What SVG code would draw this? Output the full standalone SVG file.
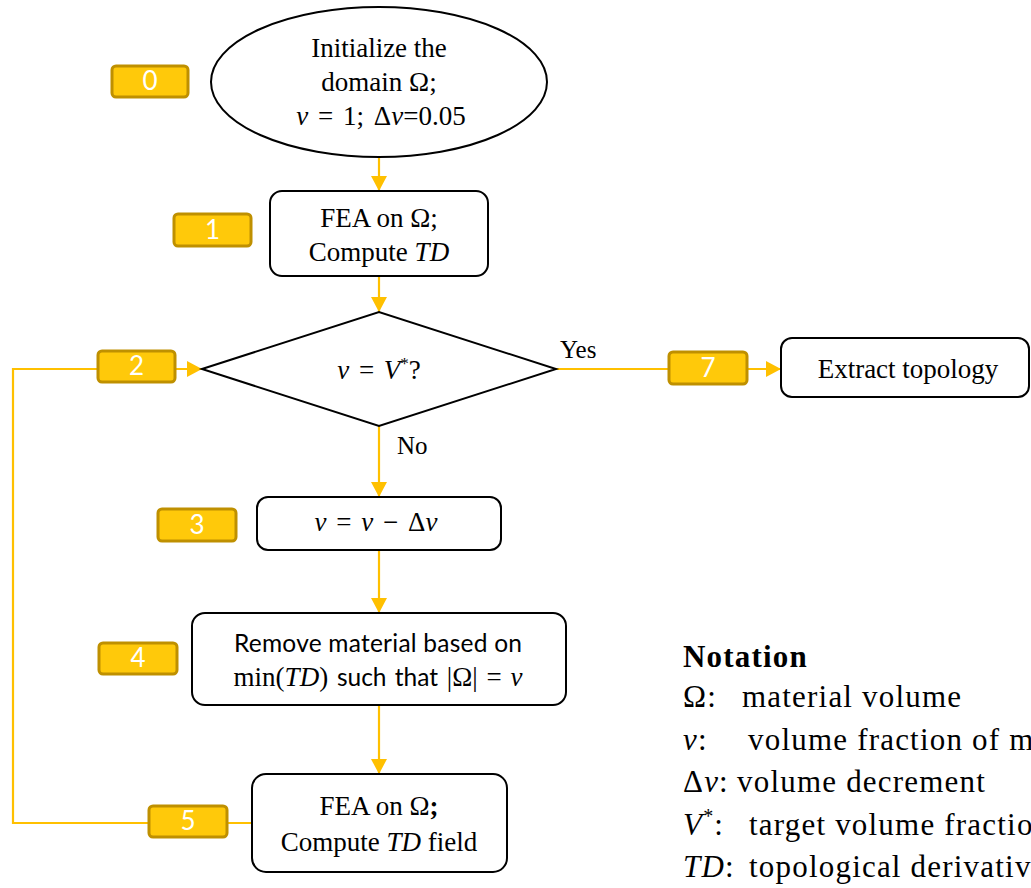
<svg xmlns="http://www.w3.org/2000/svg" width="1031" height="888" viewBox="0 0 1031 888">
<defs>
<marker id="ah" markerWidth="16" markerHeight="16" refX="15" refY="8" orient="auto" markerUnits="userSpaceOnUse"><path d="M0,0 L15,8 L0,16 z" fill="#FFC000"/></marker>
<style>
.box{fill:#fff;stroke:#000;stroke-width:2}
.con{fill:none;stroke:#FFC000;stroke-width:2.2}
.badge{fill:#FFC90A;stroke:#BF9000;stroke-width:3}
.bt{font-family:Lato,"Liberation Sans",sans-serif;font-size:26px;fill:#fff;text-anchor:middle}
.t{font-family:"Liberation Serif",serif;font-size:27px;fill:#000;text-anchor:middle}
.s{font-family:Lato,"Liberation Sans",sans-serif;font-size:24.5px;fill:#000}
.i{font-style:italic}
.lbl{font-family:"Liberation Serif",serif;font-size:25px;fill:#000}
.n{font-family:"Liberation Serif",serif;font-size:31px;fill:#000;letter-spacing:1.2px}
</style>
</defs>
<rect width="1031" height="888" fill="#fff"/>
<g id="connectors">
<path class="con" d="M379,157 V191" marker-end="url(#ah)"/>
<path class="con" d="M379,276 V312" marker-end="url(#ah)"/>
<path class="con" d="M379,426 V497" marker-end="url(#ah)"/>
<path class="con" d="M379,550 V613" marker-end="url(#ah)"/>
<path class="con" d="M379,705 V774" marker-end="url(#ah)"/>
<path class="con" d="M252,823 H13 V369 H202" marker-end="url(#ah)"/>
<path class="con" d="M556,369 H781" marker-end="url(#ah)"/>
<text class="lbl" x="560" y="358">Yes</text>
<text class="lbl" x="397" y="454">No</text>
</g>
<g id="node0">
<ellipse class="box" cx="379" cy="82" rx="168" ry="75"/>
<text class="t" x="379" y="57">Initialize the</text>
<text class="t" x="379" y="91">domain Ω;</text>
<text class="t" x="381" y="125" word-spacing="3"><tspan class="i">v</tspan> = 1; Δ<tspan class="i">v</tspan>=0.05</text>
</g>
<g id="node1">
<rect class="box" x="270" y="191" width="218" height="85" rx="12"/>
<text class="t" x="379" y="227">FEA on Ω;</text>
<text class="t" x="379" y="261">Compute <tspan class="i">TD</tspan></text>
</g>
<g id="node2">
<polygon class="box" points="202,369 379,312 556,369 379,426"/>
<text class="t" x="379" y="379" word-spacing="3"><tspan class="i">v</tspan> = <tspan class="i">V</tspan><tspan font-size="17" dy="-10">*</tspan><tspan dy="10">?</tspan></text>
</g>
<g id="node3">
<rect class="box" x="257" y="497" width="244" height="53" rx="11"/>
<text class="t" x="376" y="531" word-spacing="3"><tspan class="i">v</tspan> = <tspan class="i">v</tspan> − Δ<tspan class="i">v</tspan></text>
</g>
<g id="node4">
<rect class="box" x="192" y="613" width="374" height="92" rx="13"/>
<text class="s" x="378" y="652" text-anchor="middle" textLength="288" lengthAdjust="spacing">Remove material based on</text>
<text class="t" x="378" y="686" word-spacing="2">min(<tspan class="i">TD</tspan>) <tspan class="s">such that</tspan> |Ω| = <tspan class="i">v</tspan></text>
</g>
<g id="node5">
<rect class="box" x="252" y="774" width="255" height="98" rx="14"/>
<text class="t" x="379" y="815">FEA on Ω<tspan font-weight="bold">;</tspan></text>
<text class="t" x="379" y="851">Compute <tspan class="i">TD</tspan> field</text>
</g>
<g id="node7">
<rect class="box" x="781" y="338" width="248" height="59" rx="11"/>
<text class="t" x="908" y="378">Extract topology</text>
</g>
<g id="badges">
<g id="badge0"><rect class="badge" x="112" y="66" width="76" height="31" rx="4"/><text class="bt" x="150" y="90">0</text></g>
<g id="badge1"><rect class="badge" x="174" y="214" width="77" height="32" rx="4"/><text class="bt" x="212.5" y="239">1</text></g>
<g id="badge2"><rect class="badge" x="98" y="351" width="77" height="31" rx="4"/><text class="bt" x="136.5" y="375">2</text></g>
<g id="badge3"><rect class="badge" x="158" y="509" width="78" height="32" rx="4"/><text class="bt" x="197" y="534">3</text></g>
<g id="badge4"><rect class="badge" x="99" y="643" width="78" height="31" rx="4"/><text class="bt" x="138" y="667">4</text></g>
<g id="badge5"><rect class="badge" x="149" y="806" width="78" height="31" rx="4"/><text class="bt" x="188" y="830">5</text></g>
<g id="badge7"><rect class="badge" x="669" y="352" width="78" height="32" rx="4"/><text class="bt" x="708" y="377">7</text></g>
</g>
<g id="notation">
<text class="n" x="683" y="667" font-weight="bold" letter-spacing="0.8">Notation</text>
<text class="n" x="683" y="707">Ω:<tspan x="742">material volume</tspan></text>
<text class="n" x="683" y="750"><tspan class="i">v</tspan>:<tspan x="748">volume fraction of material</tspan></text>
<text class="n" x="683" y="792" letter-spacing="0">Δ<tspan class="i">v</tspan>:<tspan x="737" letter-spacing="1.2">volume decrement</tspan></text>
<text class="n" x="683" y="835"><tspan class="i">V</tspan><tspan font-size="20" dy="-12">*</tspan><tspan dy="12">:</tspan><tspan x="749">target volume fraction</tspan></text>
<text class="n" x="683" y="877"><tspan class="i">TD</tspan>:<tspan x="749">topological derivative</tspan></text>
</g>
</svg>
